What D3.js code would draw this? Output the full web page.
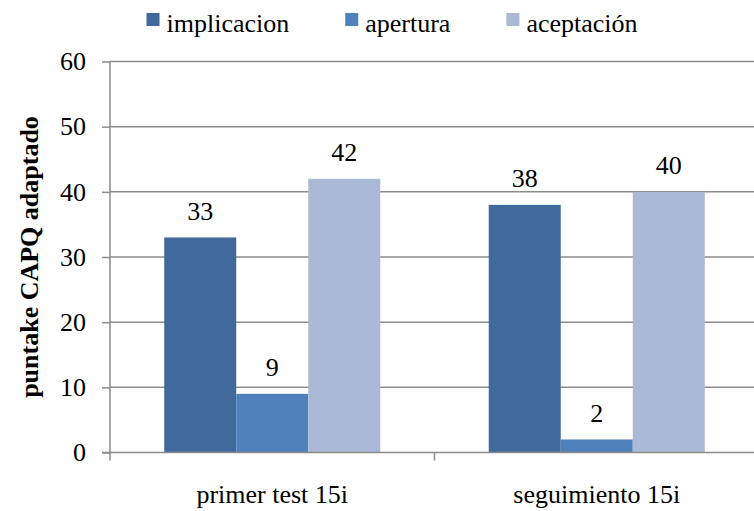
<!DOCTYPE html>
<html>
<head>
<meta charset="utf-8">
<script src="https://cdn.jsdelivr.net/npm/d3@7"></script>
<style>
  html, body { margin: 0; padding: 0; background: #fff; }
  svg { display: block; }
  text { font-family: "Liberation Serif", "Times New Roman", serif; fill: #000; }
</style>
</head>
<body>
<svg id="chart" width="754" height="511"></svg>
<script>
const categories = ["primer test 15i", "seguimiento 15i"];
const seriesNames = ["implicacion", "apertura", "aceptación"];
const implicacion = [33, 38];
const apertura = [9, 2];
const aceptacion = [42, 40];
const yTicks = [0, 10, 20, 30, 40, 50, 60];
const colors = ["#416A9C", "#4F81BD", "#AAB9D7"];

const seriesValues = [implicacion, apertura, aceptacion];
const data = categories.map((c, i) => ({
  cat: c,
  vals: seriesNames.map((s, j) => ({ key: s, value: seriesValues[j][i], color: colors[j] }))
}));

const svg = d3.select("#chart");
const W = 754, H = 511;
const plot = { left: 110, right: 759, top: 61.5, bottom: 452.5 };
const gridColor = "#8C8C8C";

const x0 = d3.scaleBand().domain(categories).range([plot.left, plot.right]).paddingInner(0).paddingOuter(0);
const x1 = d3.scaleBand().domain(seriesNames).range([0, x0.bandwidth()]).paddingInner(0).paddingOuter(0.753);
const y = d3.scaleLinear().domain([0, 60]).range([plot.bottom, plot.top]);

// gridlines
svg.append("g").selectAll("line").data(yTicks.filter(d => d > 0)).join("line")
  .attr("x1", plot.left).attr("x2", W)
  .attr("y1", d => y(d)).attr("y2", d => y(d))
  .attr("stroke", gridColor).attr("stroke-width", 1.5);

// bars
const groups = svg.append("g").selectAll("g").data(data).join("g")
  .attr("transform", d => `translate(${x0(d.cat)},0)`);
groups.selectAll("rect").data(d => d.vals).join("rect")
  .attr("x", d => x1(d.key)).attr("width", x1.bandwidth())
  .attr("y", d => y(d.value)).attr("height", d => y(0) - y(d.value))
  .attr("fill", d => d.color);
groups.selectAll("text").data(d => d.vals).join("text")
  .attr("x", d => x1(d.key) + x1.bandwidth() / 2)
  .attr("y", d => y(d.value) - 17.5)
  .attr("text-anchor", "middle")
  .style("font-size", "26px")
  .text(d => d.value);

// y axis
const yAxis = d3.axisLeft(y).tickValues(yTicks).tickSize(8).tickPadding(16);
const gy = svg.append("g").attr("transform", `translate(${plot.left},0)`).call(yAxis);
gy.select(".domain").attr("stroke", gridColor).attr("stroke-width", 1.5)
  .attr("d", `M0,${plot.top}V${plot.bottom}`);
gy.selectAll(".tick line").attr("stroke", gridColor).attr("stroke-width", 1.5);
gy.selectAll(".tick text").style("font-size", "26px").style("font-family", "Liberation Serif").attr("fill", "#000");

// x axis
const xAxis = d3.axisBottom(x0).tickSize(0).tickPadding(0).tickFormat(d => d);
const gx = svg.append("g").attr("transform", `translate(0,${plot.bottom})`).call(xAxis);
gx.select(".domain").attr("stroke", gridColor).attr("stroke-width", 1.5)
  .attr("d", `M${plot.left - 8},0H${W}`);
gx.selectAll(".tick text").style("font-size", "26px").style("font-family", "Liberation Serif")
  .attr("fill", "#000").attr("y", 50).attr("dy", 0);
// category boundary ticks
const bounds = [plot.left, ...categories.map(c => x0(c) + x0.bandwidth())];
gx.append("g").selectAll("line").data(bounds).join("line")
  .attr("x1", d => d).attr("x2", d => d).attr("y1", 0).attr("y2", 8)
  .attr("stroke", gridColor).attr("stroke-width", 1.5);

// y title
svg.append("text")
  .attr("transform", `translate(38,${(plot.top + plot.bottom) / 2}) rotate(-90)`)
  .attr("text-anchor", "middle")
  .style("font-size", "26px").style("font-weight", "bold")
  .text("puntake CAPQ adaptado");

// legend
const legend = svg.append("g").attr("transform", "translate(146.5,0)");
let lx = 0;
seriesNames.forEach((s, i) => {
  const g = legend.append("g").attr("transform", `translate(${lx},0)`);
  g.append("rect").attr("x", 0).attr("y", 13).attr("width", 13).attr("height", 13).attr("fill", colors[i]);
  const t = g.append("text").attr("x", 20).attr("y", 32).style("font-size", "26px").text(s);
  lx += 20 + t.node().getComputedTextLength() + 56;
});
</script>
</body>
</html>
